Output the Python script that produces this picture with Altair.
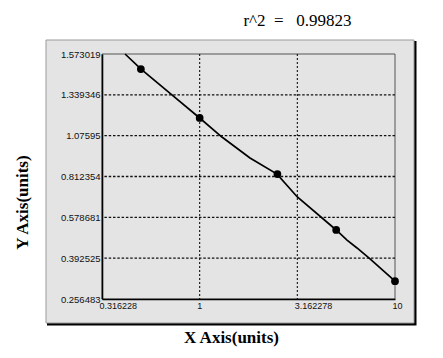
import altair as alt
import pandas as pd

# ---- data ----
x_ticks = [0.316228, 1, 3.162278, 10]
y_ticks = [0.256483, 0.392525, 0.578681, 0.812354, 1.07595, 1.339346, 1.573019]

x_grid = [1, 3.162278]
y_grid = [0.392525, 0.578681, 0.812354, 1.07595, 1.339346]

std_x = [0.5, 1, 2.5, 5, 10]
std_y = [1.487, 1.190, 0.828, 0.521, 0.316]

curve_x = [0.415, 0.501, 0.721, 1.0, 1.30, 1.81, 2.49, 3.162, 5.0, 5.68, 6.39, 7.45, 10.0]
curve_y = [1.573, 1.487, 1.339, 1.190, 1.067, 0.932, 0.828, 0.695, 0.521, 0.475, 0.439, 0.390, 0.316]

title_text = "r^2\u00a0\u00a0=\u00a0\u00a0\u00a00.99823"
x_title = "X Axis(units)"
y_title = "Y Axis(units)"

W, H = 293, 245

# y axis of the reference spaces its tick labels evenly -> piecewise scale
y_range = [H - i * H / (len(y_ticks) - 1) for i in range(len(y_ticks))]

x_scale = alt.Scale(type="log", domain=[x_ticks[0], x_ticks[-1]], nice=False)
y_scale = alt.Scale(type="linear", domain=y_ticks, range=y_range, nice=False, zero=False)

x_axis = alt.Axis(
    values=x_ticks, labelExpr="'' + datum.value", grid=False, ticks=False, tickSize=0,
    domainColor="black", domainWidth=1.6,
    labelFont="Liberation Sans", labelFontSize=9, labelColor="#111",
    labelAlign="left", labelBaseline="top", labelOffset=-3, labelPadding=2,
    labelFlush=False, labelOverlap=False,
    title=x_title, titleFont="Liberation Serif", titleFontSize=17, titleFontWeight="bold",
    titleColor="black", titleX=129, titleY=38, titleAlign="center", titleBaseline="middle",
    zindex=1,
)
y_axis = alt.Axis(
    values=y_ticks, labelExpr="'' + datum.value", grid=False, ticks=False, tickSize=0,
    domainColor="black", domainWidth=1.6,
    labelFont="Liberation Sans", labelFontSize=9.5, labelColor="#111",
    labelAlign="right", labelBaseline="middle", labelPadding=2,
    labelFlush=False, labelOverlap=False,
    title=y_title, titleFont="Liberation Serif", titleFontSize=17, titleFontWeight="bold",
    titleColor="black", titleAngle=270, titleX=-80, titleY=148, titleAlign="center",
    titleBaseline="middle", zindex=1,
)

X = alt.X("x:Q", scale=x_scale, axis=x_axis)
Y = alt.Y("y:Q", scale=y_scale, axis=y_axis)

one = pd.DataFrame({"k": [0]})

shadow = alt.Chart(one).mark_rect(color="black").encode(
    x=alt.value(-55), x2=alt.value(314.5), y=alt.value(-13), y2=alt.value(271.5)
)
panel = alt.Chart(one).mark_rect(fill="#e4e4e4", stroke="#9a9a9a", strokeWidth=1).encode(
    x=alt.value(-56), x2=alt.value(312), y=alt.value(-14), y2=alt.value(269)
)
frame = alt.Chart(one).mark_rect(fillOpacity=0, stroke="#555", strokeWidth=1).encode(
    x=alt.value(0), x2=alt.value(W), y=alt.value(0), y2=alt.value(H)
)

vgrid = alt.Chart(pd.DataFrame({"x": x_grid})).mark_rule(
    color="#111", strokeWidth=1.1, strokeDash=[2, 2]
).encode(x=X)
hgrid = alt.Chart(pd.DataFrame({"y": y_grid})).mark_rule(
    color="#111", strokeWidth=1.3, strokeDash=[2.5, 1.8]
).encode(y=Y)

curve = alt.Chart(pd.DataFrame({"x": curve_x, "y": curve_y})).mark_line(
    color="black", strokeWidth=1.7
).encode(x=X, y=Y)

points = alt.Chart(pd.DataFrame({"x": std_x, "y": std_y})).mark_circle(
    color="black", size=60, opacity=1
).encode(x=X, y=Y)

chart = alt.layer(shadow, panel, frame, vgrid, hgrid, curve, points).properties(
    width=W, height=H,
    title=alt.TitleParams(
        text=title_text, font="Liberation Serif", fontSize=17, fontWeight="normal",
        color="black", anchor="middle", frame="group", dx=49, offset=10,
    ),
    autosize=alt.AutoSizeParams(type="none"),
    padding={"left": 102, "top": 54, "right": 48, "bottom": 59},
    background="white",
).configure_view(stroke=None)

chart.save("out.html", embed_options={"renderer": "svg", "actions": False})
